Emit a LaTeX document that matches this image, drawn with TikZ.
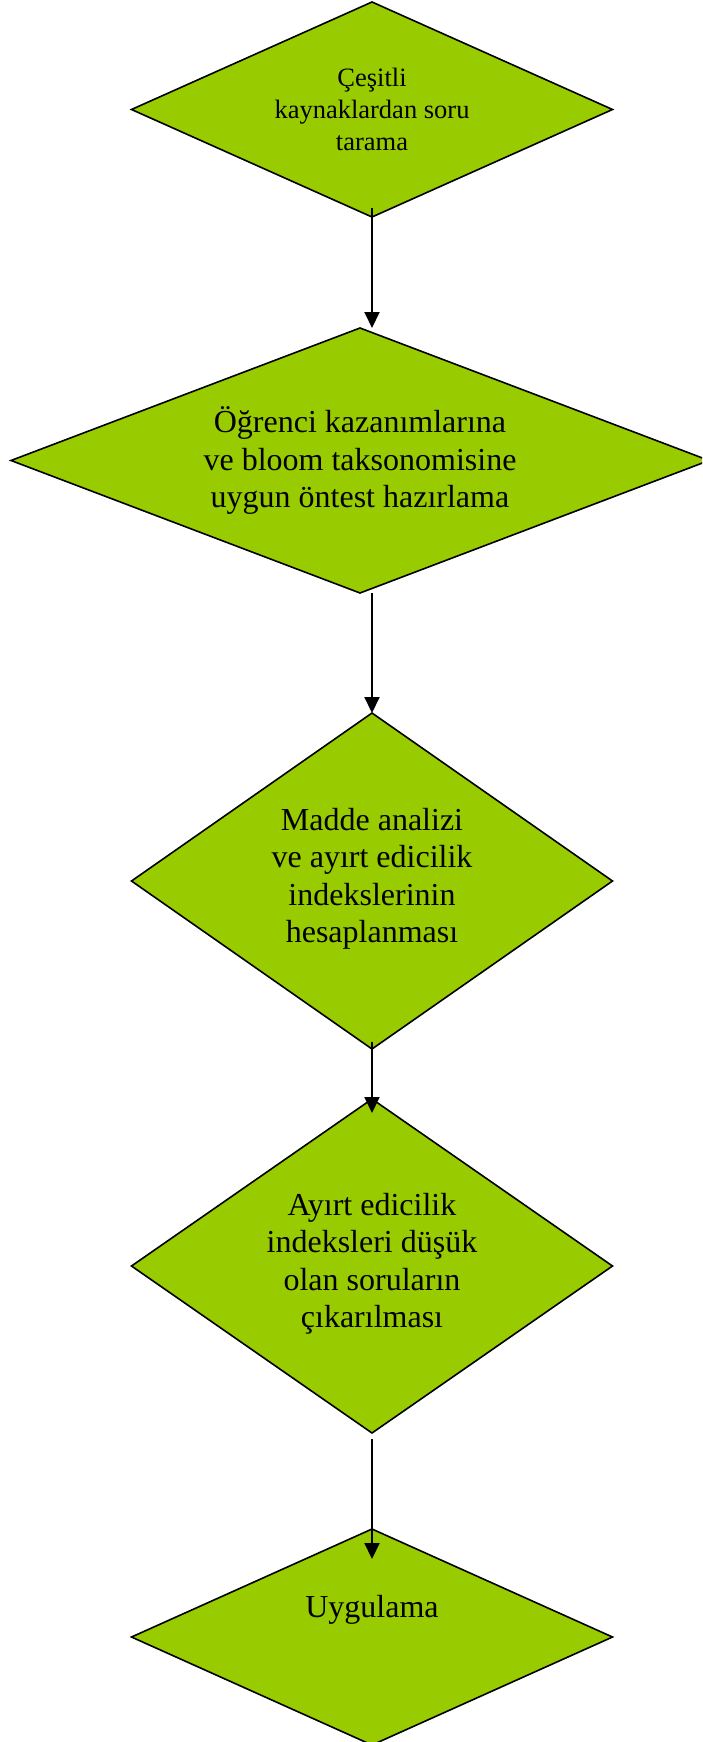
\documentclass[tikz,border=0pt]{standalone}
\usepackage{fontspec}
\setmainfont{Liberation Serif}
\usetikzlibrary{shapes.geometric,arrows.meta}
\definecolor{boxgreen}{HTML}{99CC00}
\tikzset{
  dia/.style={diamond, draw=black, line width=1.6pt, fill=boxgreen, inner sep=0pt, outer sep=0pt},
  lbl/.style={align=center, inner sep=0pt, text=black},
  bigtxt/.style={lbl, font=\fontsize{32}{37.5}\selectfont},
  smalltxt/.style={lbl, font=\fontsize{26.5}{31.7}\selectfont},
  conn/.style={line width=2pt, -{Triangle[length=16pt,width=15pt]}}
}
\begin{document}
\begin{tikzpicture}[x=1pt,y=-1pt]
\useasboundingbox (0,0) rectangle (702,1742);
\begin{scope}
\clip (0,0) rectangle (702,1742);
\node[dia, minimum width=481pt, minimum height=215pt] (d1) at (372,109.5) {};
\node[dia, minimum width=698pt, minimum height=265pt] (d2) at (360,460.5) {};
\node[dia, minimum width=481pt, minimum height=336pt] (d3) at (372,881) {};
\node[dia, minimum width=481pt, minimum height=334pt] (d4) at (372,1266) {};
\node[dia, minimum width=481pt, minimum height=216pt] (d5) at (372,1637) {};
\end{scope}
\node[smalltxt] (t1) at (d1.center) {Çeşitli\\kaynaklardan soru\\tarama};
\node[bigtxt] (t2) at (d2.center) {Öğrenci kazanımlarına\\ve bloom taksonomisine\\uygun öntest hazırlama};
\node[bigtxt] (t3) at ([yshift=2pt]d3.center) {Madde analizi\\ve ayırt edicilik\\indekslerinin\\hesaplanması};
\node[bigtxt] (t4) at ([yshift=2pt]d4.center) {Ayırt edicilik\\indeksleri düşük\\olan soruların\\çıkarılması};
\node[bigtxt] (t5) at ([yshift=27pt]d5.center) {Uygulama};
\draw[conn] ([yshift=9pt]d1.south) -- (d1.south |- d2.north);
\draw[conn] (d3.north |- d2.south) -- (d3.north);
\draw[conn] ([yshift=7pt]d3.south) -- ([yshift=-14pt]d4.north);
\draw[conn] ([yshift=-6pt]d4.south) -- ([yshift=-30pt]d5.north);
\end{tikzpicture}
\end{document}
